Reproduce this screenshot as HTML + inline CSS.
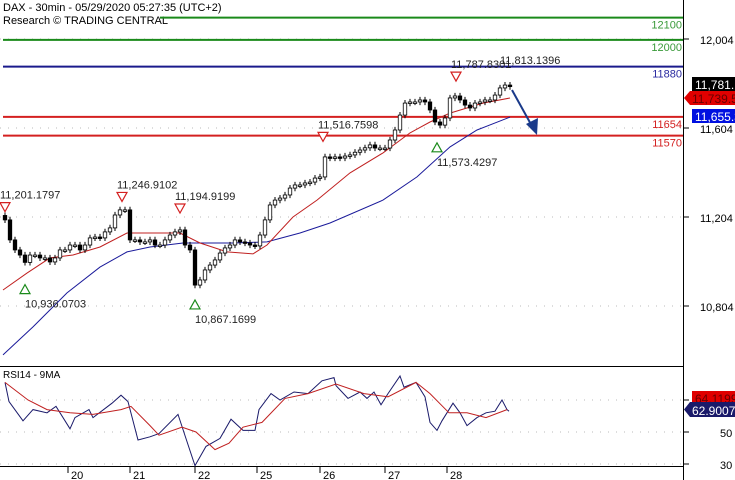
<!DOCTYPE html>
<html><head><meta charset="utf-8"><style>
html,body{margin:0;padding:0;background:#fff;}
svg{display:block;font-family:"Liberation Sans",Arial,sans-serif;}
</style></head><body>
<svg id="c" width="735" height="480" viewBox="0 0 735 480">
<text x="3" y="11" font-size="11" fill="#000">DAX - 30min - 05/29/2020 05:27:35 (UTC+2)</text>
<text x="3" y="24" font-size="11" fill="#000">Research © TRADING CENTRAL</text>
<text x="3" y="378" font-size="10" fill="#000">RSI14 - 9MA</text>
</svg>
<script>
const closes=[11191,11101,11056,11033,11000,11033,11033,11020,11020,11002,11020,11056,11056,11078,11078,11056,11078,11110,11114,11110,11137,11155,11213,11236,11236,11101,11101,11092,11092,11101,11078,11078,11101,11123,11137,11146,11078,11056,10898,10921,10966,10988,11011,11042,11065,11078,11101,11092,11087,11078,11074,11123,11191,11258,11280,11289,11303,11334,11348,11348,11357,11361,11379,11384,11474,11469,11474,11469,11478,11483,11495,11505,11515,11528,11514,11514,11514,11550,11595,11662,11716,11721,11721,11730,11721,11685,11631,11617,11649,11739,11748,11730,11707,11694,11716,11721,11730,11730,11752,11784,11797,11790];
const maRedT=[-0.4,4.4,9,13.6,19,24.4,29,35,39,44.4,49.6,52.4,57.6,62.4,69,75.6,81,85,89,95.6,101];
const maRedV=[10876,10952,11020,11033,11069,11132,11132,11132,11087,11047,11038,11078,11204,11280,11402,11492,11582,11631,11671,11716,11739];
const maBlueT=[-0.4,5.6,12.4,19,24.4,29,35.6,45.6,52.4,59,65,75.6,82.4,89,94.4,101];
const maBlueV=[10584,10710,10863,10979,11047,11069,11087,11087,11092,11132,11177,11280,11384,11519,11595,11653];
const rsiT=[0,0.8,3.6,5.6,8.4,10.2,13,14,16.8,17.6,21.4,23.2,24.6,26.6,29,30.8,34.6,36.4,38,40.2,43,45.2,47.6,50,50.8,53.2,55,57.8,60.6,63.4,65.8,66.2,68.6,71,72.4,73.8,75.2,76.6,79,79.8,82.2,84,85,86.4,87.4,89.6,91,92.4,94.4,96.2,98,99.4,100.4,100.8];
const rsiV=[81,69,57,64,62,66,52,59,64,59,68,73,69,45,47,49,61,44,29,41,46,58,51,51,64,74,70,75,74,82,84,79,71,75,71,75,67,74,85,78,81,72,56,51,57,68,62,54,59,62,63,70,64,63];
const rsiMaT=[0,4.6,8.4,13,17.6,23.2,25.2,29,30.8,35.4,38.2,42,44.8,47.6,51.4,56,60.6,66.2,71.8,76.6,82.2,85,88.8,92.4,96.2,100.4];
const rsiMaV=[81,70,64,62,61,64,66,54,48,53,50,39,43,53,56,71,74,80,74,72,81,74,62,62,59,64];
const levelVals=[12100,12000,11880,11654,11570];
const levelLabels=["12100","12000","11880","11654","11570"];
const priceTicks=[12004,11604,11204,10804];
const priceTickLabels=["12,004","11,604","11,204","10,804"];
const rsiTicks=[70,50,30];
const rsiTickLabels=["","50","30"];
const dayT=[12.6,25,38,50.4,63,76,88.4];
const dayLabels=["20","21","22","25","26","27","28"];
const highT=[0,23.4,35,63.6,90.2];
const highV=[11201.1797,11246.9102,11194.9199,11516.7598,11787.8301];
const lowT=[4,38,86.4];
const lowV=[10936.0703,10867.1699,11573.4297];

const NS="http://www.w3.org/2000/svg";
const svg=document.getElementById('c');
const X=t=>5+t*5;
const Y=p=>39+(12004-p)*0.2225;
const RY=v=>432-(v-50)*1.6;
function mk(tag,attrs,parent){const e=document.createElementNS(NS,tag);for(const k in attrs)e.setAttribute(k,attrs[k]);(parent||svg).appendChild(e);return e;}
const fmt=v=>v.toLocaleString('en-US',{minimumFractionDigits:4,maximumFractionDigits:4});

priceTicks.forEach((p,i)=>{
 const g=mk('line',{x1:0,x2:683,y1:Y(p),y2:Y(p),stroke:'#bbb','stroke-dasharray':'1,7'});
 
 
 const tk=mk('line',{x1:683,x2:689,y1:Y(p),y2:Y(p),stroke:'#000'});
 
 
 const t=mk('text',{x:700,y:Y(p)+5,'font-size':11});t.textContent=priceTickLabels[i];
 
 
});
rsiTicks.forEach((v,i)=>{
 const g=mk('line',{x1:0,x2:683,y1:RY(v),y2:RY(v),stroke:'#bbb','stroke-dasharray':'1,7'});
 
 
 const tk=mk('line',{x1:683,x2:689,y1:RY(v),y2:RY(v),stroke:'#000'});
 
 
 const t=mk('text',{x:720,y:RY(v)+5,'font-size':11});t.textContent=rsiTickLabels[i];
 
 
});
const ax=mk('line',{x1:683.5,x2:683.5,y1:0,y2:480,stroke:'#000'});


const sep=mk('line',{x1:0,x2:683,y1:366.5,y2:366.5,stroke:'#000'});


const bot=mk('line',{x1:0,x2:683,y1:466.5,y2:466.5,stroke:'#000'});


dayT.forEach((t,i)=>{
 const tk=mk('line',{x1:X(t),x2:X(t),y1:466,y2:473,stroke:'#000'});
 
 
 const l=mk('text',{x:X(t)+3,y:479,'font-size':11});l.textContent=dayLabels[i];
 
 
});
const lvColors=['#1a8a1a','#1a8a1a','#1a1a8c','#d42020','#d42020'];
const lvTxt=['#3a9a3a','#3a9a3a','#2a2aa0','#d42020','#d42020'];
const lvStart=[160,3,3,3,3];
levelVals.forEach((v,i)=>{
 const l=mk('line',{x1:lvStart[i],x2:683,y1:Y(v),y2:Y(v),stroke:lvColors[i],'stroke-width':2});
 
 
 const t=mk('text',{x:682,y:Y(v)+11,'font-size':11,'text-anchor':'end',fill:lvTxt[i]});t.textContent=levelLabels[i];
 
 
});
function line(ts,vs,fy,color,name){
 const d=ts.map((t,i)=>(i?'L':'M')+X(t).toFixed(1)+','+fy(vs[i]).toFixed(1)).join('');
 const p=mk('path',{d:d,fill:'none',stroke:color,'stroke-width':1});
 
 
}
line(maBlueT,maBlueV,Y,'#1a1a9a','ma-blue');
line(maRedT,maRedV,Y,'#c02020','ma-red');
closes.forEach((c,i)=>{
 const o=i?closes[i-1]:c+20;
 const hi=Math.max(o,c)+14, lo=Math.min(o,c)-14;
 const x=X(i);
 const w=mk('line',{x1:x,x2:x,y1:Y(hi),y2:Y(lo),stroke:'#000'});
 
 
 const top=Y(Math.max(o,c)),h=Math.max(1.5,Math.abs(Y(o)-Y(c)));
 const b=mk('rect',{x:x-1.75,y:top,width:3.5,height:h,fill:c>=o?'#fff':'#000',stroke:'#000','stroke-width':0.8});
 
 
});
highT.forEach((t,i)=>{
 const x=X(t),y=Y(highV[i])-10;
 const tr=mk('path',{d:`M${x-5},${y-5}L${x+5},${y-5}L${x},${y+4}Z`,fill:'#fff',stroke:'#d42020','stroke-width':1.2});
 
 
 const l=mk('text',{x:x-5,y:y-9,'font-size':11,fill:'#222'});l.textContent=fmt(highV[i]);
 
 
});
lowT.forEach((t,i)=>{
 const x=X(t),y=Y(lowV[i])+12;
 const tr=mk('path',{d:`M${x-5},${y+5}L${x+5},${y+5}L${x},${y-4}Z`,fill:'#fff',stroke:'#1a8a1a','stroke-width':1.2});
 
 
 const l=mk('text',{x:x,y:y+19,'font-size':11,fill:'#222'});l.textContent=fmt(lowV[i]);
 
 
});
const hl=mk('text',{x:500,y:64,'font-size':11,fill:'#222'});hl.textContent='11,813.1396';


const ar=mk('path',{d:'M512,90L533,128',stroke:'#1a3a8a','stroke-width':2,fill:'none'});


const ah=mk('path',{d:'M526,124L537,135L538,118Z',fill:'#1a3a8a'});


line(rsiT,rsiV,RY,'#1a1a6a','rsi-line');
line(rsiMaT,rsiMaV,RY,'#c02020','rsi-ma-line');
function box(x,y,w,h,bg,txt,name,arrow){
 const d=arrow?`M${x},${y+h/2}L${x+6},${y}L${x+w},${y}L${x+w},${y+h}L${x+6},${y+h}Z`:`M${x},${y}h${w}v${h}h${-w}Z`;
 const r=mk('path',{d:d,fill:bg});
 
 
 const t=mk('text',{x:x+(arrow?8:3),y:y+h-2,'font-size':12,fill:bg=='#e00000'?'#600':'#fff'});t.textContent=txt;
 
 
}
box(692,77,43,14,'#000','11,781.1','last-price-box',false);
box(684,91,51,14,'#e00000','11,739.5','red-ma-box',true);
box(692,109,43,14,'#0010e0','11,655.3','blue-ma-box',false);
box(692,391,43,14,'#e00000','64.1199','rsi-ma-box',false);
box(684,402,51,15,'#1a1a6a','62.9007','rsi-box',true);
</script>
</body></html>
